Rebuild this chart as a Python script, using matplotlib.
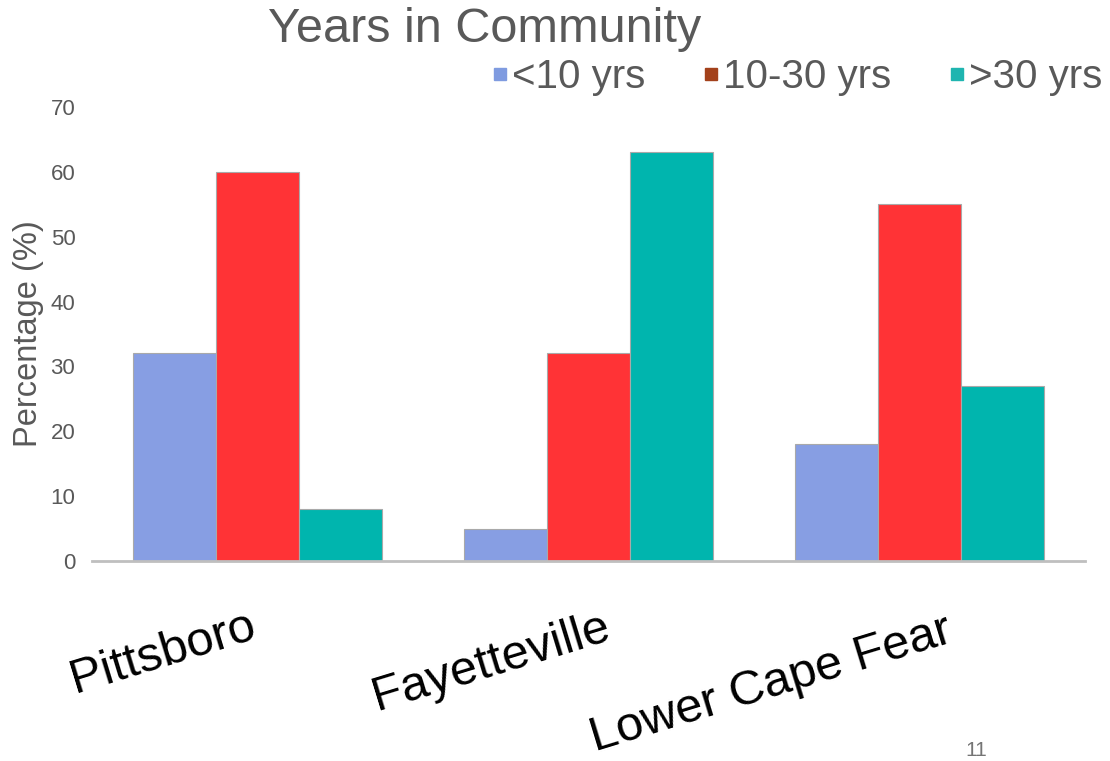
import matplotlib
matplotlib.use("Agg")
import matplotlib.pyplot as plt
from matplotlib.lines import Line2D
import numpy as np

plt.rcParams['font.family'] = ['Liberation Sans', 'DejaVu Sans']

categories = ["Pittsboro", "Fayetteville", "Lower Cape Fear"]
series_names = ["<10 yrs", "10-30 yrs", ">30 yrs"]
under_10 = [32, 5, 18]
from_10_to_30 = [60, 32, 55]
over_30 = [8, 63, 27]
y_ticks = [0, 10, 20, 30, 40, 50, 60, 70]

bar_colors = ["#879EE3", "#FF3336", "#00B5AE"]
legend_colors = ["#7F9BE0", "#A3411B", "#1FB5B0"]
gray_text = "#595959"

fig = plt.figure(figsize=(11.10, 7.61), dpi=100)
ax = fig.add_axes([92 / 1110, 1 - 561 / 761, (1085 - 92) / 1110, (561 - 107) / 761])

x = np.arange(len(categories))
width = 0.25
for k, vals in enumerate([under_10, from_10_to_30, over_30]):
    ax.bar(x + (k - 1) * width, vals, width, color=bar_colors[k],
           edgecolor="#A9A9A9", linewidth=0.8, zorder=2)

ax.set_xlim(-0.5, 2.5)
ax.set_ylim(0, 70)
ax.set_yticks(y_ticks)
ax.set_yticklabels([str(t) for t in y_ticks], fontsize=16, color=gray_text)
ax.tick_params(axis="y", length=0, pad=12)
ax.set_xticks([])
for s in ["top", "right", "left"]:
    ax.spines[s].set_visible(False)
ax.spines["bottom"].set_color("#BFBFBF")
ax.spines["bottom"].set_linewidth(2)
ax.spines["bottom"].set_zorder(3)

ax.set_ylabel("Percentage (%)", fontsize=23.5, color=gray_text)
ax.yaxis.set_label_coords(-0.048, 0.5)

# Rotated category names under each group
label_dx = [-0.55, -0.64, -0.98]
label_dy = [-0.29, -0.33, -0.42]
for i, name in enumerate(categories):
    ax.text(x[i] + label_dx[i], label_dy[i], name, transform=ax.get_xaxis_transform(),
            rotation=17, rotation_mode="anchor", ha="left", va="baseline",
            fontsize=35, color="black", clip_on=False)

fig.text(485 / 1110, 1 - 29 / 761, "Years in Community", ha="center", va="center",
         fontsize=35, color=gray_text)

handles = [Line2D([0], [0], marker="s", linestyle="none", markersize=9,
                  markerfacecolor=c, markeredgecolor=c) for c in legend_colors]
leg = fig.legend(handles, series_names, loc="center right",
                 bbox_to_anchor=(1102 / 1110, 1 - 77 / 761), ncol=3, frameon=False,
                 fontsize=29, handlelength=0.35, handletextpad=0.12,
                 columnspacing=1.45, borderaxespad=0, borderpad=0)
for t in leg.get_texts():
    t.set_color(gray_text)

fig.text(976 / 1110, 1 - 750 / 761, "11", ha="center", va="center",
         fontsize=15, color="#757575")

fig.savefig("out.png", dpi=100)
